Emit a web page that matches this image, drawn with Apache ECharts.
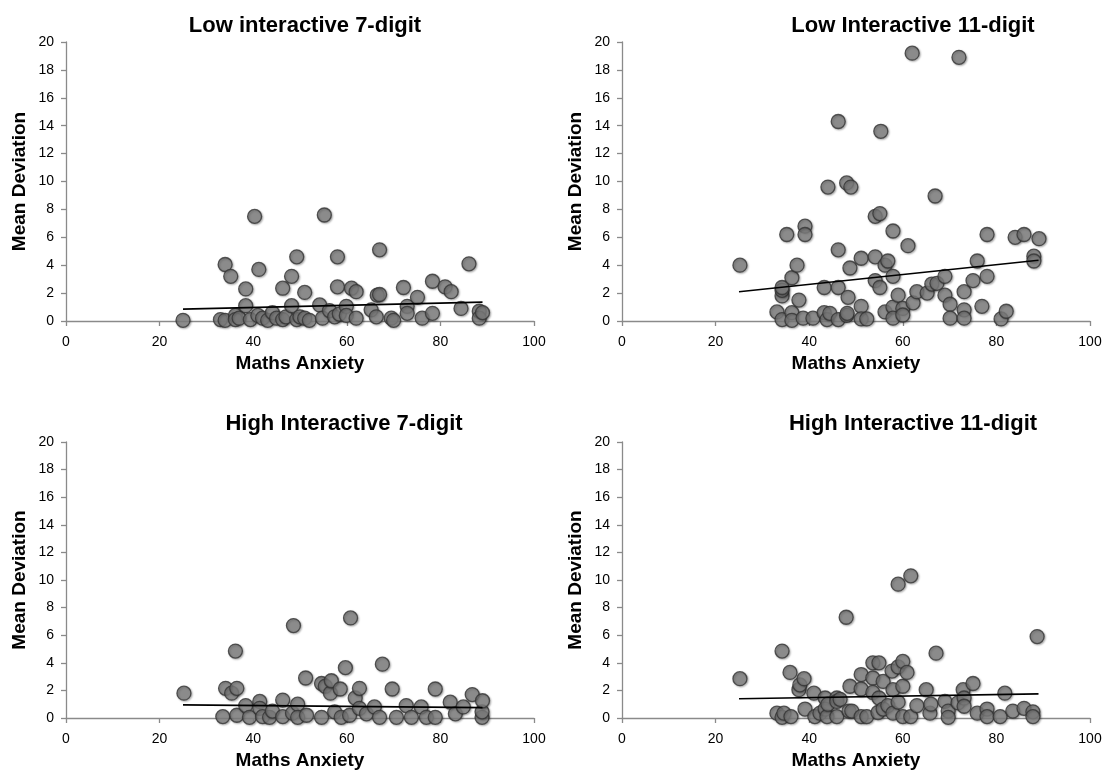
<!DOCTYPE html>
<html>
<head>
<meta charset="utf-8">
<script src="https://cdn.jsdelivr.net/npm/echarts@6/dist/echarts.min.js"></script>
<style>
html,body{margin:0;padding:0;background:#fff;}
#chart{width:1113px;height:771px;}
</style>
</head>
<body>
<div id="chart"></div>
<script>
// ---- data (Maths Anxiety, Mean Deviation) ----
var titles = ['Low interactive 7-digit', 'Low Interactive 11-digit', 'High Interactive 7-digit', 'High Interactive 11-digit'];
var xTicks = [0, 20, 40, 60, 80, 100];
var yTicks = [0, 2, 4, 6, 8, 10, 12, 14, 16, 18, 20];

var low7 = [
  [25,0.05],[33,0.1],[34,0.05],[34,4.05],[35.2,3.2],[36.2,0.4],[36.2,0.1],[37,0.2],[38.4,2.3],[38.4,1.1],
  [39.4,0.1],[40.3,7.5],[41,0.4],[41.2,3.7],[42,0.2],[43.1,0.05],[44.1,0.6],[45,0.2],[46.3,2.35],[46.3,0.1],
  [47,0.3],[48.2,3.2],[48.2,1.1],[49.3,4.6],[49.3,0.1],[50,0.3],[51,2.05],[51,0.2],[52,0.05],[54.2,1.15],
  [54.8,0.2],[55.2,7.6],[56.3,0.75],[57.4,0.3],[58,4.6],[58,2.45],[58.4,0.5],[59.9,1.05],[59.9,0.4],[61,2.35],
  [62,2.1],[62,0.2],[65.2,0.8],[66.3,0.3],[66.5,1.85],[67,5.1],[67,1.9],[69.5,0.2],[70,0.05],[72.1,2.4],
  [72.9,1.05],[72.9,0.55],[75.1,1.7],[76.1,0.2],[78.3,2.85],[78.3,0.55],[81,2.45],[82.3,2.1],[84.4,0.9],[86.1,4.1],
  [88.3,0.7],[88.3,0.2],[89,0.6]
];
var low11 = [
  [25.2,4.0],[33.1,0.65],[34.2,0.1],[34.2,1.8],[34.2,2.2],[34.2,2.4],[35.2,6.2],[36.3,0.6],[36.3,0.05],[36.3,3.1],
  [37.4,4.0],[37.8,1.5],[38.7,0.2],[39.1,6.8],[39.1,6.2],[40.8,0.2],[43.2,2.4],[43.2,0.6],[43.8,0.1],[44,9.6],
  [44.4,0.55],[46.2,14.3],[46.2,5.1],[46.2,2.4],[46.2,0.1],[48,9.9],[48,0.4],[48.3,1.7],[48.7,3.8],[48.9,9.6],
  [48.1,0.55],[51.1,4.5],[51.1,1.05],[51.1,0.15],[52.3,0.15],[54.1,7.5],[54.1,4.6],[54.1,2.9],[55.1,7.7],[55.3,13.6],
  [55.1,2.4],[56.2,4.0],[56.2,0.65],[56.8,4.3],[57.9,6.45],[57.9,3.2],[57.9,1.0],[57.9,0.2],[59,1.85],[60,0.9],
  [60,0.43],[61.1,5.4],[62,19.2],[62.2,1.3],[63,2.1],[65.2,2.0],[66.2,2.65],[66.9,8.96],[67.3,2.7],[69,3.2],
  [69,1.85],[70.1,1.2],[70.1,0.2],[72,18.9],[73.1,2.1],[73.1,0.8],[73.1,0.2],[75,2.9],[75.9,4.3],[76.9,1.05],
  [78,6.2],[78,3.2],[81,0.15],[82.1,0.7],[84,6.0],[85.9,6.2],[88,4.65],[88,4.3],[89.1,5.9]
];
var high7 = [
  [25.2,1.8],[33.5,0.1],[34.1,2.15],[35.4,1.8],[36.2,4.85],[36.5,2.15],[36.5,0.2],[38.4,0.9],[39.2,0.05],[41.4,1.2],
  [41.4,0.7],[42,0.1],[43.5,0.05],[44.1,0.5],[46.3,1.3],[46.3,0.1],[48.4,0.35],[48.6,6.7],[49.5,1.0],[49.5,0.05],
  [51.2,2.9],[51.4,0.2],[54.6,2.5],[54.6,0.05],[55.4,2.3],[56.5,1.8],[56.7,2.7],[57.4,0.45],[58.6,2.1],[58.8,0.05],
  [59.7,3.65],[60.6,0.2],[60.8,7.25],[61.8,1.45],[62.7,2.15],[62.7,0.7],[64.2,0.3],[65.9,0.8],[67,0.05],[67.6,3.9],
  [69.7,2.1],[70.6,0.05],[72.7,0.9],[73.8,0.05],[75.9,0.8],[77,0.05],[78.9,2.1],[78.9,0.05],[82.1,1.15],[83.2,0.3],
  [84.9,0.8],[86.8,1.7],[88.9,0.05],[88.9,0.45],[89,1.25]
];
var high11 = [
  [25.2,2.85],[33.1,0.35],[34.2,4.85],[34.2,0.05],[34.6,0.35],[35.9,3.3],[36.1,0.1],[37.8,2.05],[38,2.4],[38.9,2.85],
  [39.1,0.65],[41,1.8],[41.2,0.1],[42.3,0.35],[43.4,1.45],[43.4,0.65],[43.8,0.1],[44,1.0],[45.9,1.45],[45.9,1.2],
  [45.9,0.1],[46.6,1.35],[47.9,7.3],[48.5,0.5],[48.7,2.3],[49.1,0.5],[51.1,3.15],[51.1,2.1],[51.1,0.1],[52.3,0.1],
  [53.6,4.0],[53.6,2.9],[53.6,1.85],[54.7,0.4],[54.9,4.0],[54.9,1.45],[55.8,2.65],[55.8,0.65],[56.8,0.9],[57.7,3.4],
  [57.9,2.05],[57.9,0.35],[59,9.7],[59,3.7],[59,1.15],[60,4.1],[60,2.3],[60,0.1],[60.9,3.3],[61.7,10.3],
  [61.7,0.1],[63,0.9],[65,2.05],[65.8,0.35],[66,1.0],[67.1,4.7],[69,1.2],[69.7,0.5],[69.7,0.05],[71.8,1.1],
  [72.9,2.05],[73.1,1.45],[73.1,0.85],[75,2.5],[75.9,0.35],[78,0.65],[78,0.1],[80.8,0.1],[81.8,1.8],[83.5,0.5],
  [85.9,0.7],[87.8,0.45],[87.8,0.1],[88.7,5.9]
];
// linear trend lines (end points)
var trendLow7 = [[25,0.85],[89,1.35]];
var trendLow11 = [[25,2.1],[89,4.35]];
var trendHigh7 = [[25,0.95],[89,0.75]];
var trendHigh11 = [[25,1.4],[89,1.75]];

var scatterSets = [low7, low11, high7, high11];
var trendSets = [trendLow7, trendLow11, trendHigh7, trendHigh11];

// ---- layout ----
var grids = [
  {left: 66, top: 42, width: 468, height: 279},
  {left: 622, top: 42, width: 468, height: 279},
  {left: 66, top: 442, width: 468, height: 280},
  {left: 622, top: 442, width: 468, height: 280}
];
var titlePos = [[300, 10], [908, 10], [339, 408], [908, 408]];
var FONT = 'Liberation Sans, Arial, sans-serif';
var axisColor = '#8a8a8a';

var option = {
  backgroundColor: '#ffffff',
  animation: false,
  title: titles.map(function (t, i) {
    return {
      text: t, left: titlePos[i][0], top: titlePos[i][1], textAlign: 'center',
      textStyle: {fontFamily: FONT, fontSize: 22, fontWeight: 'bold', color: '#000'}
    };
  }),
  grid: grids,
  xAxis: grids.map(function (g, i) {
    return {
      gridIndex: i, type: 'value', min: xTicks[0], max: xTicks[xTicks.length - 1], interval: 20,
      name: 'Maths Anxiety', nameLocation: 'middle', nameGap: 33,
      nameTextStyle: {fontFamily: FONT, fontSize: 19, fontWeight: 'bold', color: '#000'},
      axisLine: {show: true, onZero: false, lineStyle: {color: axisColor, width: 1.3}},
      axisTick: {show: true, length: 5, lineStyle: {color: axisColor, width: 1.3}},
      axisLabel: {fontFamily: FONT, fontSize: 14, color: '#000', margin: 14},
      splitLine: {show: false}
    };
  }),
  yAxis: grids.map(function (g, i) {
    return {
      gridIndex: i, type: 'value', min: yTicks[0], max: yTicks[yTicks.length - 1], interval: 2,
      name: 'Mean Deviation', nameLocation: 'middle', nameGap: 37,
      nameTextStyle: {fontFamily: FONT, fontSize: 19, fontWeight: 'bold', color: '#000'},
      axisLine: {show: true, lineStyle: {color: axisColor, width: 1.3}},
      axisTick: {show: true, length: 5, lineStyle: {color: axisColor, width: 1.3}},
      axisLabel: {fontFamily: FONT, fontSize: 14, color: '#000', margin: 12},
      splitLine: {show: false}
    };
  }),
  series: []
};

scatterSets.forEach(function (d, i) {
  option.series.push({
    type: 'scatter', xAxisIndex: i, yAxisIndex: i, data: d, symbol: 'circle', symbolSize: 14,
    itemStyle: {color: '#7f7f7f', borderColor: '#333333', borderWidth: 1.3,
      shadowBlur: 2, shadowColor: 'rgba(0,0,0,0.35)', shadowOffsetX: 1, shadowOffsetY: 1},
    z: 2
  });
});
trendSets.forEach(function (d, i) {
  option.series.push({
    type: 'line', xAxisIndex: i, yAxisIndex: i, data: d, symbol: 'none',
    lineStyle: {color: '#000', width: 1.6}, z: 3, silent: true
  });
});

var chart = echarts.init(document.getElementById('chart'), null, {renderer: 'canvas'});
chart.setOption(option);
</script>
</body>
</html>
